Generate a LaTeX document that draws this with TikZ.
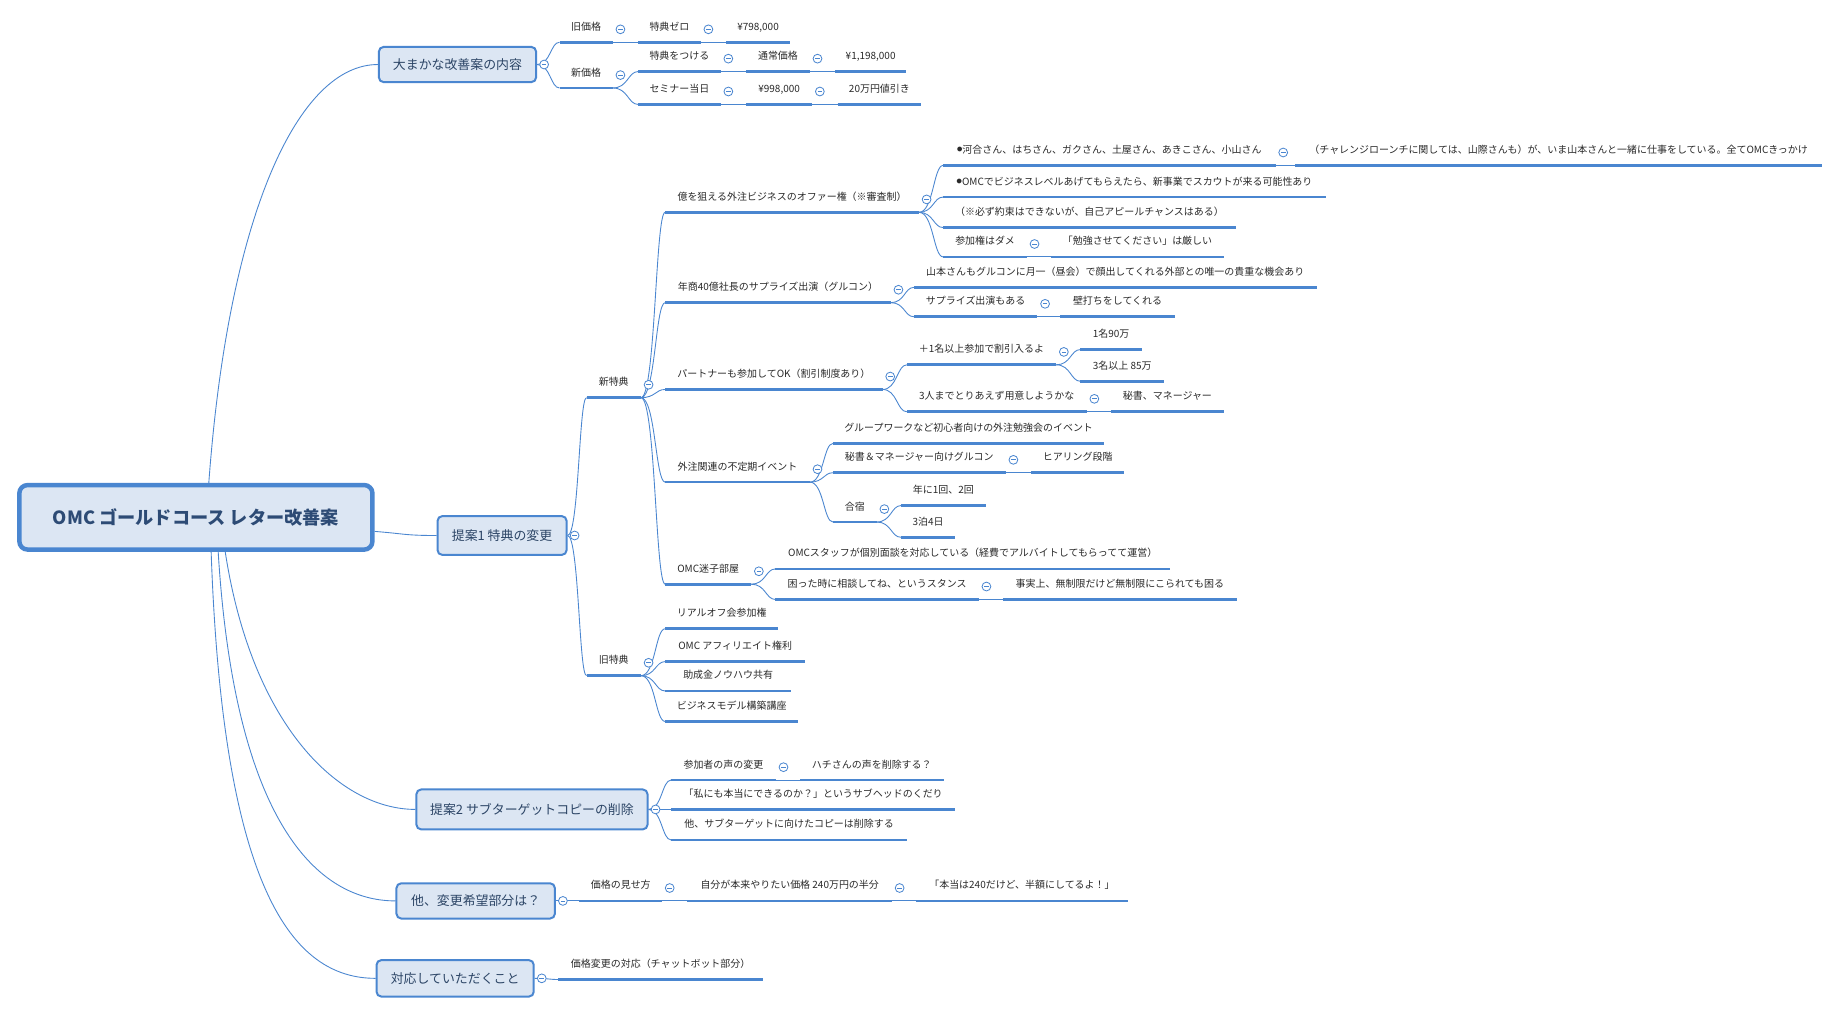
\documentclass[tikz,border=0pt]{standalone}
\usepackage{fontspec}
\setmainfont{Noto Sans CJK JP}
\usetikzlibrary{calc}
\definecolor{lb}{HTML}{4A86D0}
\definecolor{bxfill}{HTML}{DCE6F3}
\definecolor{bxtext}{HTML}{2C4566}
\definecolor{roottext}{HTML}{2D4B75}
\definecolor{subtext}{HTML}{2A2A2A}
\newcommand\smallbullet{\raisebox{1.5pt}{\fontsize{4.5}{5}\selectfont ●}}
\tikzset{
  subn/.style={anchor=south west, inner xsep=3pt, inner ysep=0pt, text height=7.5pt, text depth=10pt,
    font=\fontsize{8.5}{10}\selectfont, text=subtext},
  uline/.style={draw=lb, line width=2.3pt},
  conn/.style={draw=lb, line width=0.75pt},
  btn/.style={circle, draw=lb, fill=white, line width=0.7pt, minimum size=7.5pt, inner sep=0pt,
    path picture={\draw[lb, line width=0.6pt] ([xshift=-2pt]path picture bounding box.center) -- ([xshift=2pt]path picture bounding box.center);}},
  topic/.style={draw=lb, fill=bxfill, line width=1.7pt, rounded corners=4pt, text=bxtext,
    font=\fontsize{11}{13}\selectfont, inner sep=0pt},
  rootbox/.style={topic, line width=3.8pt, rounded corners=7pt, text=roottext,
    font=\bfseries\fontsize{15.5}{18}\selectfont}
}
\newcommand\mkSub[5]{\node[subn, minimum width=#4pt] (#1) at (#2,#3) {#5};
  \draw[uline] (#1.south west) -- (#1.south east);}
\newcommand\mkBtn[1]{\node[btn] (#1b) at ([xshift=6.5pt,yshift=11pt]#1.south east) {};}
\newcommand\mkTopBtn[1]{\node[btn] (#1b) at ([xshift=6pt]#1.east) {};}
\newcommand\mkLink[2]{\draw[conn] let \p1=(#1.south east), \p2=(#2.south west) in
  (\p1) .. controls ({0.4*\x1+0.6*\x2},\y1) and ({0.4*\x1+0.6*\x2},\y2) .. (\p2);}
\newcommand\mkTopLink[2]{\draw[conn] let \p1=(#1.east), \p2=(#2.south west) in
  (\p1) .. controls ({0.4*\x1+0.6*\x2},\y1) and ({0.4*\x1+0.6*\x2},\y2) .. (\p2);}
\begin{document}
\begin{tikzpicture}[x=1pt,y=-1pt]
\fill[white] (0,0) rectangle (1566,865.3);
\useasboundingbox (0,0) rectangle (1566,865.3);

% root and topics
\node[rootbox, minimum width=301pt, minimum height=55pt] (root) at (167,441) {OMC ゴールドコース レター改善案};
\node[topic, minimum width=134pt, minimum height=30pt] (T1) at (390,55) {大まかな改善案の内容};
\node[topic, minimum width=110pt, minimum height=33pt] (T2) at (428,456.5) {提案1 特典の変更};
\node[topic, minimum width=197pt, minimum height=34pt] (T3) at (453.5,690) {提案2 サブターゲットコピーの削除};
\node[topic, minimum width=135pt, minimum height=30pt] (T4) at (405.5,768) {他、変更希望部分は？};
\node[topic, minimum width=134pt, minimum height=31pt] (T5) at (388,834) {対応していただくこと};

% T1 branch
\mkSub{a1}{477}{36}{45}{旧価格}
\mkSub{a1c}{544}{36}{53}{特典ゼロ}
\mkSub{a1cc}{619}{36}{54}{¥798,000}
\mkSub{a2}{477}{75}{45}{新価格}
\mkSub{a21}{544}{61}{70}{特典をつける}
\mkSub{a211}{636}{61}{54}{通常価格}
\mkSub{a2111}{712}{61}{60}{¥1,198,000}
\mkSub{a22}{544}{89}{70}{セミナー当日}
\mkSub{a221}{636}{89}{56}{¥998,000}
\mkSub{a2211}{714}{89}{71}{20万円値引き}

% T2 branch
\mkSub{b1}{500}{339}{46}{新特典}
\mkSub{b2}{500}{576}{46}{旧特典}
\mkSub{c1}{567}{181}{216}{億を狙える外注ビジネスのオファー権（※審査制）}
\mkSub{c2}{567}{258}{192}{年商40億社長のサプライズ出演（グルコン）}
\mkSub{c3}{567}{332}{185}{パートナーも参加してOK（割引制度あり）}
\mkSub{c4}{567}{411}{123}{外注関連の不定期イベント}
\mkSub{c5}{567}{498}{73}{OMC迷子部屋}
\mkSub{d1}{804}{141}{283}{\smallbullet 河合さん、はちさん、ガクさん、土屋さん、あきこさん、小山さん}
\mkSub{d1c}{1104}{141}{449}{（チャレンジローンチに関しては、山際さんも）が、いま山本さんと一緒に仕事をしている。全てOMCきっかけ}
\mkSub{d2}{804}{168}{326}{\smallbullet OMCでビジネスレベルあげてもらえたら、新事業でスカウトが来る可能性あり}
\mkSub{d3}{804}{194}{249}{（※必ず約束はできないが、自己アピールチャンスはある）}
\mkSub{d4}{804}{219}{71}{参加権はダメ}
\mkSub{d4c}{896}{219}{147}{「勉強させてください」は厳しい}
\mkSub{e1}{779}{245}{343}{山本さんもグルコンに月一（昼会）で顔出してくれる外部との唯一の貴重な機会あり}
\mkSub{e2}{779}{270}{105}{サプライズ出演もある}
\mkSub{e2c}{904}{270}{97}{壁打ちをしてくれる}
\mkSub{f1}{773}{311}{127}{＋1名以上参加で割引入るよ}
\mkSub{g1}{921}{298}{52}{1名90万}
\mkSub{g2}{921}{325}{71}{3名以上 85万}
\mkSub{f2}{773}{351}{153}{3人までとりあえず用意しようかな}
\mkSub{f2c}{947}{351}{96}{秘書、マネージャー}
\mkSub{h1}{710}{378}{231}{グループワークなど初心者向けの外注勉強会のイベント}
\mkSub{h2}{710}{403}{147}{秘書＆マネージャー向けグルコン}
\mkSub{h2c}{879}{403}{79}{ヒアリング段階}
\mkSub{h3}{710}{445}{37}{合宿}
\mkSub{i1}{768}{431}{72}{年に1回、2回}
\mkSub{i2}{768}{458}{46}{3泊4日}
\mkSub{j1}{661}{485}{336}{OMCスタッフが個別面談を対応している（経費でアルバイトしてもらってて運営）}
\mkSub{j2}{661}{511}{173}{困った時に相談してね、というスタンス}
\mkSub{j2c}{855}{511}{199}{事実上、無制限だけど無制限にこられても困る}
\mkSub{k1}{567}{536}{96}{リアルオフ会参加権}
\mkSub{k2}{567}{564}{119}{OMC アフィリエイト権利}
\mkSub{k3}{567}{589}{107}{助成金ノウハウ共有}
\mkSub{k4}{567}{615}{113}{ビジネスモデル構築講座}

% T3 branch
\mkSub{l1}{572}{665}{89}{参加者の声の変更}
\mkSub{l1c}{682}{665}{122}{ハチさんの声を削除する？}
\mkSub{l2}{572}{690}{242}{「私にも本当にできるのか？」というサブヘッドのくだり}
\mkSub{l3}{572}{716}{201}{他、サブターゲットに向けたコピーは削除する}

% T4 branch
\mkSub{m1}{494}{768}{70}{価格の見せ方}
\mkSub{m2}{586}{768}{174}{自分が本来やりたい価格 240万円の半分}
\mkSub{m3}{781}{768}{180}{「本当は240だけど、半額にしてるよ！」}

% T5 branch
\mkSub{n1}{476}{835}{174}{価格変更の対応（チャットボット部分）}

% root connectors
\draw[conn] ([xshift=11pt]root.north) .. controls (195,180) and (255,55) .. (T1.west);
\draw[conn] ([yshift=-12pt]root.east) .. controls (345,455) and (345,456.5) .. (T2.west);
\draw[conn] ([xshift=25pt]root.south) .. controls (215,620) and (290,690) .. (T3.west);
\draw[conn] ([xshift=19pt]root.south) .. controls (200,700) and (270,768) .. (T4.west);
\draw[conn] ([xshift=13pt]root.south) .. controls (190,760) and (250,834) .. (T5.west);

% topic connectors
\mkTopLink{T1}{a1}\mkTopLink{T1}{a2}
\mkTopLink{T2}{b1}\mkTopLink{T2}{b2}
\mkTopLink{T3}{l1}\mkTopLink{T3}{l2}\mkTopLink{T3}{l3}
\mkTopLink{T4}{m1}
\mkTopLink{T5}{n1}

% sub connectors
\mkLink{a1}{a1c}\mkLink{a1c}{a1cc}
\mkLink{a2}{a21}\mkLink{a2}{a22}
\mkLink{a21}{a211}\mkLink{a211}{a2111}
\mkLink{a22}{a221}\mkLink{a221}{a2211}
\mkLink{b1}{c1}\mkLink{b1}{c2}\mkLink{b1}{c3}\mkLink{b1}{c4}\mkLink{b1}{c5}
\mkLink{c1}{d1}\mkLink{c1}{d2}\mkLink{c1}{d3}\mkLink{c1}{d4}
\mkLink{d1}{d1c}\mkLink{d4}{d4c}
\mkLink{c2}{e1}\mkLink{c2}{e2}\mkLink{e2}{e2c}
\mkLink{c3}{f1}\mkLink{c3}{f2}
\mkLink{f1}{g1}\mkLink{f1}{g2}\mkLink{f2}{f2c}
\mkLink{c4}{h1}\mkLink{c4}{h2}\mkLink{c4}{h3}
\mkLink{h2}{h2c}\mkLink{h3}{i1}\mkLink{h3}{i2}
\mkLink{c5}{j1}\mkLink{c5}{j2}\mkLink{j2}{j2c}
\mkLink{b2}{k1}\mkLink{b2}{k2}\mkLink{b2}{k3}\mkLink{b2}{k4}
\mkLink{l1}{l1c}
\mkLink{m1}{m2}\mkLink{m2}{m3}

% collapse buttons
\mkTopBtn{T1}\mkTopBtn{T2}\mkTopBtn{T3}\mkTopBtn{T4}\mkTopBtn{T5}
\mkBtn{a1}\mkBtn{a1c}\mkBtn{a2}\mkBtn{a21}\mkBtn{a211}\mkBtn{a22}\mkBtn{a221}
\mkBtn{b1}\mkBtn{b2}
\mkBtn{c1}\mkBtn{c2}\mkBtn{c3}\mkBtn{c4}\mkBtn{c5}
\mkBtn{d1}\mkBtn{d4}\mkBtn{e2}\mkBtn{f1}\mkBtn{f2}\mkBtn{h2}\mkBtn{h3}\mkBtn{j2}
\mkBtn{l1}\mkBtn{m1}\mkBtn{m2}
\end{tikzpicture}
\end{document}
